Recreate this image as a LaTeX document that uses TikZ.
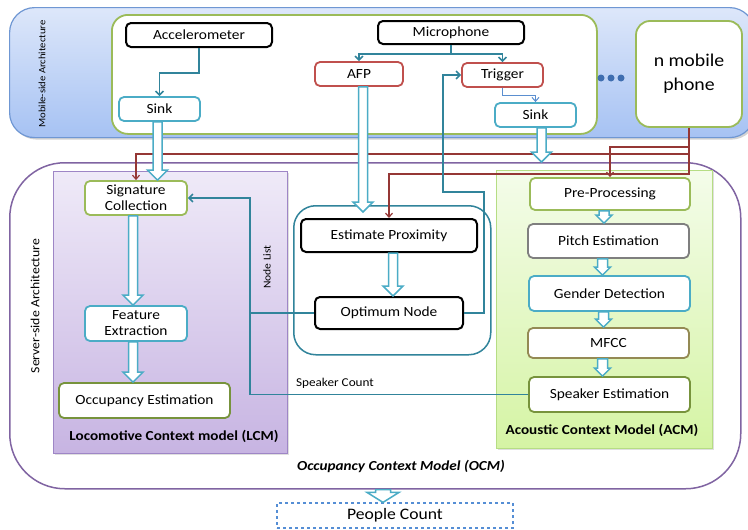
\documentclass[tikz,border=0pt]{standalone}
\usepackage{fontspec}
\setmainfont{Carlito}[FakeStretch=1.1]
\usetikzlibrary{arrows.meta,calc,shadows}
\definecolor{mobTop}{HTML}{DDE7FA}
\definecolor{mobBot}{HTML}{A6C2F3}
\definecolor{mobBorder}{HTML}{6F97D3}
\definecolor{grn}{HTML}{9BBB59}
\definecolor{redb}{HTML}{C0504D}
\definecolor{cyanb}{HTML}{4BACC6}
\definecolor{teal}{HTML}{31849B}
\definecolor{darkred}{HTML}{953735}
\definecolor{purp}{HTML}{8064A2}
\definecolor{lcmTop}{HTML}{EFEAF8}
\definecolor{lcmBot}{HTML}{C7B4E2}
\definecolor{lcmBorder}{HTML}{9E86C6}
\definecolor{acmTop}{HTML}{F4FCEA}
\definecolor{acmBot}{HTML}{D5F4A4}
\definecolor{acmBorder}{HTML}{B6DD84}
\definecolor{grayb}{HTML}{7F7F7F}
\definecolor{khaki}{HTML}{948A54}
\definecolor{olive}{HTML}{77933C}
\definecolor{pblue}{HTML}{558ED5}
\definecolor{dotc}{HTML}{3F6EB0}
\definecolor{lblue}{HTML}{5B8FD0}
\newcommand{\fsz}[2]{\fontsize{#1}{#2}\selectfont}
\newcommand{\fatarrow}[5]{%
  \draw[fatarr] ($(#4)+(-#1,0)$) -- ($(#5)+(-#1,-#3)$) -- ($(#5)+(-#2,-#3)$) -- (#5)
    -- ($(#5)+(#2,-#3)$) -- ($(#5)+(#1,-#3)$) -- ($(#4)+(#1,0)$) -- cycle;}
\begin{document}
\begin{tikzpicture}[x=1pt,y=-1pt,
  container/.style={draw, anchor=north west, inner sep=0pt},
  box/.style={draw, fill=white, rounded corners=5pt, line width=1.8pt, inner sep=0pt,
    align=center, font=\fsz{14}{16}},
  blackbox/.style={box, draw=black, line width=2pt},
  redbox/.style={box, draw=redb},
  cyanbox/.style={box, draw=cyanb},
  grnbox/.style={box, draw=grn},
  thinarr/.style={draw=teal, line width=1.5pt, -{Straight Barb[length=4pt,width=8pt]}},
  redarr/.style={draw=darkred, line width=1.2pt, -{Straight Barb[length=4pt,width=7pt]}},
  fatarr/.style={draw=cyanb, fill=white, line width=1.5pt, line join=miter},
  lbl/.style={inner sep=0pt},
  dotn/.style={circle, fill=dotc, minimum size=7pt, inner sep=0pt}]
\useasboundingbox (0,0) rectangle (748,530);

% mobile-side container
\node[container, draw=mobBorder, line width=1.2pt, rounded corners=25pt, top color=mobTop, bottom color=mobBot,
  minimum width=745pt, minimum height=130pt,
  drop shadow={shadow xshift=2pt, shadow yshift=-2pt, opacity=0.35}] (mob) at (9,7) {};
\node[lbl, rotate=90, font=\fsz{9.7}{12}] (moblbl) at (42,74) {Mobile-side Architecture};
\node[container, draw=grn, fill=white, line width=1.8pt, rounded corners=16pt,
  minimum width=485pt, minimum height=119pt] (phone) at (111,14) {};
\node[box, draw=grn, rounded corners=14pt, minimum width=106pt, minimum height=106pt,
  font=\fsz{18}{24}] (nphone) at (689,74) {n mobile\\phone};
\node[dotn] (d1) at (601,78) {};
\node[dotn] (d2) at (611,78) {};
\node[dotn] (d3) at (621,78) {};

\node[blackbox, minimum width=146pt, minimum height=24pt] (acc) at (199,35) {Accelerometer};
\node[blackbox, minimum width=146pt, minimum height=23pt] (mic) at (451,32.5) {Microphone};
\node[redbox, minimum width=88pt, minimum height=24pt] (afp) at (359,74) {AFP};
\node[redbox, minimum width=81pt, minimum height=24pt] (trig) at (502.5,75) {Trigger};
\node[cyanbox, minimum width=81pt, minimum height=24pt] (sink1) at (159.5,109) {Sink};
\node[cyanbox, minimum width=81pt, minimum height=24pt] (sink2) at (535.5,115) {Sink};

% server-side container
\node[container, draw=purp, fill=white, line width=1.5pt, rounded corners=55pt,
  minimum width=731pt, minimum height=326pt] (ocm) at (9,162) {};
\node[lbl, rotate=90, font=\fsz{12.5}{15}] (ocmlbl) at (35,306) {Server-side Architecture};
\node[container, draw=lcmBorder, line width=1pt, top color=lcmTop, bottom color=lcmBot,
  minimum width=234pt, minimum height=282pt,
  drop shadow={shadow xshift=1.5pt, shadow yshift=-1.5pt, opacity=0.25}] (lcm) at (53,171) {};
\node[container, draw=acmBorder, line width=1pt, top color=acmTop, bottom color=acmBot,
  minimum width=216pt, minimum height=278pt,
  drop shadow={shadow xshift=1.5pt, shadow yshift=-1.5pt, opacity=0.25}] (acm) at (496,170) {};
\node[container, draw=teal, fill=white, line width=1.5pt, rounded corners=22pt,
  minimum width=197pt, minimum height=149pt] (prox) at (293,205) {};

\node[grnbox, minimum width=102pt, minimum height=34pt] (sig) at (136,198) {Signature\\Collection};
\node[cyanbox, minimum width=102pt, minimum height=35pt] (feat) at (136,323.5) {Feature\\Extraction};
\node[box, draw=olive, minimum width=171pt, minimum height=35pt] (occ) at (144.5,400.5) {Occupancy Estimation};
\node[blackbox, minimum width=176pt, minimum height=33pt] (est) at (389,235.5) {Estimate Proximity};
\node[blackbox, minimum width=148pt, minimum height=32pt] (opt) at (389,313) {Optimum Node};
\node[grnbox, minimum width=160pt, minimum height=32pt] (pre) at (610,194) {Pre-Processing};
\node[box, draw=grayb, minimum width=161pt, minimum height=34pt] (pitch) at (608.5,241) {Pitch Estimation};
\node[cyanbox, minimum width=161pt, minimum height=35pt] (gender) at (609.5,293.5) {Gender Detection};
\node[box, draw=khaki, minimum width=161pt, minimum height=30pt] (mfcc) at (608.5,343) {MFCC};
\node[box, draw=olive, minimum width=161pt, minimum height=35pt] (spk) at (609.5,394.5) {Speaker Estimation};

\node[lbl, font=\bfseries\fsz{13.8}{16}] (lcmlbl) at (174,436) {Locomotive Context model (LCM)};
\node[lbl, font=\bfseries\fsz{13.8}{16}] (acmlbl) at (602,430) {Acoustic Context Model (ACM)};
\node[lbl, font=\bfseries\itshape\fsz{13.8}{16}] (ocmname) at (401,466) {Occupancy Context Model (OCM)};
\node[lbl, rotate=90, font=\fsz{10.5}{13}] (nllbl) at (267,267) {Node List};
\node[lbl, font=\fsz{12}{14}] (sclbl) at (335,383) {Speaker Count};

\node[draw=pblue, dashed, line width=1.2pt, inner sep=0pt, minimum width=236pt, minimum height=25pt,
  font=\fsz{16}{19}] (people) at (395,515.5) {People Count};

% thin connectors
\draw[thinarr] (acc.south) -- ++(0,25) -| (sink1.north);
\draw[thinarr] (mic.south) -- ++(0,9) -| (afp.north);
\draw[thinarr] (mic.south) ++(0,9) -| (trig.north);
\draw[draw=lblue, line width=1pt, -{Straight Barb[length=4pt,width=7pt]}] (trig.south) -- ++(0,8) -| (sink2.north);

% red connectors
\draw[redarr] (nphone.south) -- ++(0,26) -| (sig.north);
\draw[redarr] (nphone.south) -- ++(0,19) -| (pre.north);
\draw[redarr] (nphone.south) -- ++(0,46) -| (est.north);

% feedback connectors
\draw[thinarr] (opt.east) -- ++(20,0) -- ++(0,-121) -- ++(-41,0) |- (trig.west);
\coordinate (nl) at ($(opt.west)+(-64,0)$);
\draw[thinarr] (opt.west) -- (nl) |- (sig.east);
\draw[draw=teal, line width=1.5pt] (spk.west) -| (nl);

% fat hollow arrows
\coordinate (s1) at ($(sink1.south)+(-2,0)$);
\coordinate (e1) at ($(sink1.south |- sig.north)+(-2,0)$);
\fatarrow{4.5}{10}{10}{s1}{e1}
\coordinate (s2) at ($(afp.south)+(4,0)$);
\coordinate (e2) at ($(afp.south |- est.north)+(4,-6)$);
\fatarrow{4.5}{10}{10}{s2}{e2}
\coordinate (s3) at ($(sink2.south)+(6,0)$);
\coordinate (e3) at ($(sink2.south |- ocm.north)+(6,0)$);
\fatarrow{4.5}{10}{10}{s3}{e3}
\coordinate (s4) at ($(sig.south)+(-3,0)$);
\coordinate (e4) at ($(feat.north)+(-3,0)$);
\fatarrow{4.5}{10}{10}{s4}{e4}
\coordinate (s5) at ($(feat.south)+(-3,0)$);
\coordinate (e5) at ($(feat.south |- occ.north)+(-3,0)$);
\fatarrow{4.5}{10}{10}{s5}{e5}
\coordinate (s6) at ($(est.south)+(4,0)$);
\coordinate (e6) at ($(opt.north)+(4,0)$);
\fatarrow{4.5}{10}{10}{s6}{e6}
\coordinate (s7) at ($(pre.south)+(-6,0)$);
\coordinate (e7) at ($(pre.south |- pitch.north)+(-6,0)$);
\fatarrow{5}{8}{8}{s7}{e7}
\coordinate (s8) at ($(pitch.south)+(-6,0)$);
\coordinate (e8) at ($(pitch.south |- gender.north)+(-6,0)$);
\fatarrow{5}{8}{8}{s8}{e8}
\coordinate (s9) at ($(gender.south)+(-6,0)$);
\coordinate (e9) at ($(gender.south |- mfcc.north)+(-6,0)$);
\fatarrow{5}{8}{8}{s9}{e9}
\coordinate (s10) at ($(mfcc.south)+(-6,0)$);
\coordinate (e10) at ($(mfcc.south |- spk.north)+(-6,0)$);
\fatarrow{5}{8}{8}{s10}{e10}
\coordinate (s11) at ($(ocm.south -| people.north)+(-12,0)$);
\coordinate (e11) at ($(people.north)+(-12,0)$);
\fatarrow{7.5}{16}{10}{s11}{e11}
\end{tikzpicture}
\end{document}
